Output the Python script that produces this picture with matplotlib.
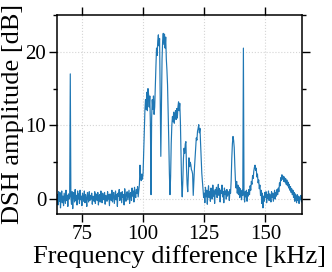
import numpy as np
import matplotlib.pyplot as plt
from matplotlib.ticker import MultipleLocator

plt.rcParams['font.family'] = ['Liberation Serif', 'DejaVu Serif']

# frequency grid [kHz], 0.25 kHz spacing
freq = np.arange(65.0, 165.001, 0.25)

# DSH amplitude [dB], 20 values per 5 kHz
amp_65_70 = [0.6, -0.8, 1.0, -0.3, 0.9, -1.2, 0.2, 1.1, -0.5, 0.4, -0.9, 0.8, 0.1, -0.6, 1.2, -0.2, 0.5, -1.0, 0.7, 0.0]
amp_70_75 = [0.3, 17.0, 0.2, -0.7, 1.0, -1.3, 0.6, 0.9, -0.4, 1.3, -0.2, 0.5, -0.8, 1.1, 0.0, 0.7, -0.6, 1.2, -0.1, 0.4]
amp_75_80 = [-0.9, 0.8, 0.3, -0.3, 1.1, -0.5, 0.6, 0.1, -1.0, 0.9, 0.2, -0.4, 1.0, -0.2, 0.5, 0.0, 0.8, -0.7, 0.4, 0.2]
amp_80_85 = [-0.3, 1.0, -0.6, 0.7, 0.3, -0.2, 0.9, -0.8, 0.4, 0.6, -0.4, 1.1, 0.1, -0.5, 0.8, 0.2, -0.1, 0.9, -0.7, 0.5]
amp_85_90 = [0.3, -0.3, 1.0, 0.0, 0.6, -0.9, 0.7, 0.4, -0.2, 1.2, -0.4, 0.5, 0.9, -0.6, 0.2, 1.1, -0.1, 0.6, -1.0, 0.8]
amp_90_95 = [0.4, 1.3, -0.2, 0.7, 0.9, -0.5, 1.0, 0.2, 0.6, -0.8, 1.4, 0.3, -0.3, 0.8, 1.0, -0.1, 0.5, 1.2, -0.6, 0.7]
amp_95_100 = [0.9, -0.2, 1.5, 0.4, 1.1, -0.4, 1.6, 0.6, 0.2, 1.3, 0.8, 1.7, 0.3, 1.2, 2.0, 4.6, 3.0, 2.5, 3.4, 2.7]
amp_100_105 = [3.5, 6.5, 9.5, 12.0, 13.5, 12.2, 14.5, 12.0, 15.0, 14.2, 12.5, 14.0, 10.0, 0.6, 11.0, 13.5, 12.2, 14.0, 11.5, 12.5]
amp_105_110 = [15.5, 18.0, 20.5, 19.5, 21.5, 22.3, 20.8, 21.8, 14.0, 5.8, 12.0, 19.0, 21.5, 22.5, 21.0, 22.4, 20.5, 22.0, 19.0, 17.5]
amp_110_115 = [15.5, 12.0, 8.0, 3.5, 0.6, 3.0, 7.5, 10.0, 11.2, 10.5, 11.8, 10.3, 11.5, 12.0, 10.8, 12.3, 11.0, 12.5, 13.2, 12.0]
amp_115_120 = [13.0, 10.5, 6.0, 2.0, 0.3, 2.5, 5.5, 6.9, 6.2, 7.5, 7.8, 4.2, 2.0, 1.0, 3.5, 5.6, 4.4, 5.0, 4.7, 4.0]
amp_120_125 = [3.8, 3.4, 0.5, 2.5, 4.2, 5.6, 6.8, 8.3, 8.0, 9.2, 9.6, 10.1, 9.0, 9.6, 7.5, 5.2, 3.5, 2.4, 1.2, 0.2]
amp_125_130 = [0.8, -0.5, 1.6, 0.3, 1.2, -0.7, 0.9, 1.8, 0.2, 1.0, -0.3, 1.5, 0.6, 0.0, 1.9, 0.4, 1.1, -0.6, 1.3, 0.7]
amp_130_135 = [1.6, 0.2, 1.0, 2.0, 0.5, 1.4, -0.4, 1.2, 0.8, 1.9, 0.3, 1.0, -0.5, 1.5, 0.6, 1.1, 0.0, 1.3, 0.4, 0.9]
amp_135_140 = [1.0, -0.2, 1.3, 0.8, 2.5, 5.5, 7.5, 8.5, 8.0, 7.0, 4.5, 2.5, 1.5, 2.4, 0.8, 1.9, 0.6, 1.6, 0.2, 1.4]
amp_140_145 = [0.9, -0.1, 1.2, 0.5, 20.5, 0.8, -0.4, 1.0, 0.3, 1.2, -0.3, 0.9, 0.4, 1.3, 0.6, 1.8, 1.2, 2.4, 2.0, 3.2]
amp_145_150 = [2.8, 3.8, 4.3, 4.6, 3.9, 4.2, 3.0, 3.4, 2.2, 2.6, 1.4, 1.9, 0.5, 1.2, -0.6, 0.8, -1.2, 0.4, -0.3, 0.9]
amp_150_155 = [0.2, 1.0, -0.5, 0.6, 0.1, 1.1, -0.2, 0.7, 0.3, -0.4, 1.0, 0.2, 0.8, -0.3, 0.5, 1.2, 0.0, 0.9, 0.4, 1.3]
amp_155_160 = [0.6, 1.5, 1.0, 2.2, 1.8, 2.9, 2.5, 3.3, 2.7, 3.1, 2.4, 3.0, 2.3, 2.8, 2.0, 2.6, 1.8, 2.3, 1.5, 2.0]
amp_160_165 = [1.2, 1.7, 0.9, 1.4, 0.6, 1.2, 0.2, 0.9, -0.3, 0.7, 0.1, -0.5, 0.6, -0.2, 0.4, -0.6, 0.3, -0.1, 0.5, -0.4, 0.1]

amp = np.array(amp_65_70 + amp_70_75 + amp_75_80 + amp_80_85 + amp_85_90
               + amp_90_95 + amp_95_100 + amp_100_105 + amp_105_110
               + amp_110_115 + amp_115_120 + amp_120_125 + amp_125_130
               + amp_130_135 + amp_135_140 + amp_140_145 + amp_145_150
               + amp_150_155 + amp_155_160 + amp_160_165)

x_ticks = [75, 100, 125, 150]
y_ticks = [0, 10, 20]

fig = plt.figure(figsize=(3.32, 2.72), dpi=100)
ax = fig.add_axes([0.173, 0.214, 0.737, 0.731])

ax.plot(freq, amp, color='#1f77b4', lw=0.85)

ax.set_xlim(65, 165)
ax.set_ylim(-2, 25)
ax.set_xticks(x_ticks)
ax.set_yticks(y_ticks)
ax.yaxis.set_minor_locator(MultipleLocator(5))
ax.grid(True, which='major', color='#d5d5d5', linestyle=':', linewidth=0.8)

ax.tick_params(which='both', direction='out', top=True, right=True, width=1.0,
               labelsize=15, pad=2)
ax.tick_params(which='major', length=6)
ax.tick_params(which='minor', length=3)
for s in ax.spines.values():
    s.set_linewidth(1.1)

ax.set_xlabel('Frequency difference [kHz]', fontsize=19, labelpad=1)
ax.set_ylabel('DSH amplitude [dB]', fontsize=19, labelpad=1)

fig.savefig('out.png', dpi=100)
